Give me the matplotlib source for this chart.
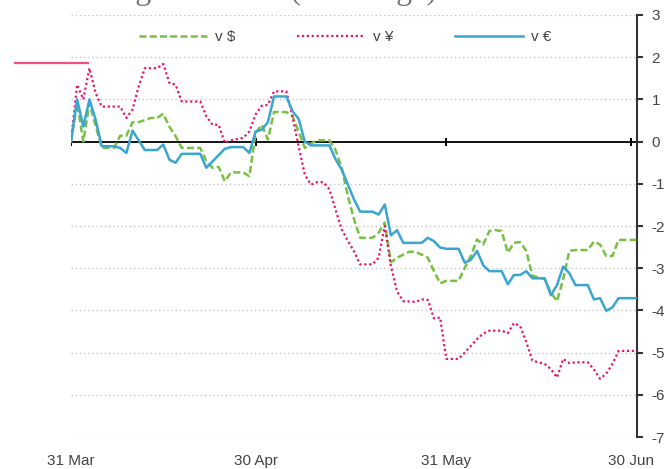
import numpy as np
import matplotlib
matplotlib.use('Agg')
import matplotlib.pyplot as plt
from matplotlib.lines import Line2D

plt.rcParams['font.family'] = ['Liberation Sans', 'DejaVu Sans']
plt.rcParams['axes.unicode_minus'] = False

# days since 31 Mar, % change of sterling
usd_days = [0, 1, 2, 3, 5, 7, 8, 9, 10, 11, 13, 14, 15, 16, 17, 18, 21, 22, 23, 24, 25, 26, 28, 29,
            30, 31, 32, 33, 35, 36, 37, 38, 39, 40, 42, 43, 44, 45, 46, 47, 49, 50, 51, 52, 53, 55,
            56, 58, 59, 60, 61, 63, 64, 65, 66, 67, 68, 69, 70, 71, 72, 73, 74, 75, 77, 78, 79, 80,
            81, 82, 84, 85, 86, 87, 88, 89, 92]
usd = [0, 0.91, 0.0, 0.91, -0.15, -0.15, 0.14, 0.14, 0.46, 0.46, 0.56, 0.56, 0.66, 0.35, 0.13, -0.15,
       -0.15, -0.46, -0.62, -0.6, -0.94, -0.73, -0.73, -0.82, 0.2, 0.4, 0.05, 0.70, 0.70, 0.6, 0.24,
       -0.15, -0.05, 0.03, 0.03, -0.2, -0.62, -1.29, -1.84, -2.28, -2.28, -2.16, -1.92, -2.86, -2.75,
       -2.61, -2.61, -2.75, -3.07, -3.36, -3.30, -3.30, -2.99, -2.71, -2.32, -2.44, -2.12, -2.10,
       -2.12, -2.63, -2.40, -2.38, -2.59, -3.18, -3.26, -3.58, -3.78, -3.26, -2.59, -2.57, -2.57,
       -2.37, -2.44, -2.71, -2.71, -2.33, -2.33]

jpy_days = [0, 1, 2, 3, 4, 5, 8, 9, 10, 11, 12, 14, 15, 16, 17, 18, 21, 22, 23, 24, 25, 26, 28, 29,
            30, 31, 32, 33, 35, 36, 37, 38, 39, 40, 41, 42, 43, 44, 45, 46, 47, 49, 50, 51, 52, 53,
            54, 56, 57, 58, 59, 60, 61, 63, 64, 65, 66, 67, 68, 70, 71, 72, 73, 74, 75, 77, 78, 79,
            80, 81, 82, 84, 85, 86, 87, 88, 89, 92]
jpy = [0, 1.35, 1.0, 1.74, 1.15, 0.83, 0.83, 0.56, 0.76, 1.31, 1.74, 1.74, 1.84, 1.39, 1.35, 0.95,
       0.95, 0.6, 0.40, 0.40, -0.03, 0.03, 0.09, 0.24, 0.64, 0.85, 0.87, 1.19, 1.19, 0.60, -0.11,
       -0.78, -1.02, -0.96, -0.96, -1.13, -1.61, -2.08, -2.35, -2.6, -2.91, -2.91, -2.75, -2.0,
       -2.95, -3.55, -3.78, -3.80, -3.74, -3.75, -4.19, -4.17, -5.15, -5.15, -5.0, -4.84, -4.68,
       -4.55, -4.48, -4.48, -4.54, -4.30, -4.37, -4.75, -5.19, -5.27, -5.39, -5.59, -5.15, -5.25,
       -5.23, -5.23, -5.40, -5.62, -5.5, -5.27, -4.96, -4.96]

eur_days = [0, 1, 2, 3, 4, 5, 7, 8, 9, 10, 12, 14, 15, 16, 17, 18, 21, 22, 25, 26, 28, 29, 30, 31,
            32, 33, 35, 36, 37, 38, 39, 42, 43, 44, 46, 47, 49, 50, 51, 52, 53, 54, 57, 58, 59, 60,
            61, 63, 64, 65, 66, 67, 68, 70, 71, 72, 73, 74, 75, 77, 78, 79, 80, 81, 82, 84, 85, 86,
            87, 88, 89, 92]
eur = [0, 1.0, 0.36, 1.0, 0.52, -0.11, -0.11, -0.15, -0.27, 0.26, -0.2, -0.2, -0.07, -0.43, -0.5,
       -0.29, -0.29, -0.62, -0.17, -0.13, -0.13, -0.27, 0.24, 0.28, 0.46, 1.07, 1.07, 0.72, 0.54,
       0.0, -0.09, -0.09, -0.42, -0.66, -1.37, -1.66, -1.66, -1.73, -1.49, -2.22, -2.10, -2.40,
       -2.40, -2.28, -2.36, -2.51, -2.54, -2.54, -2.87, -2.80, -2.59, -2.93, -3.07, -3.07, -3.38,
       -3.16, -3.16, -3.07, -3.24, -3.24, -3.64, -3.40, -2.96, -3.12, -3.40, -3.40, -3.74, -3.71,
       -4.01, -3.93, -3.71, -3.71]

tick_days = [0, 30, 61, 91]
tick_labels = ['31 Mar', '30 Apr', '31 May', '30 Jun']

fig = plt.figure(figsize=(6.71, 4.69), dpi=100)
ax = fig.add_axes([71 / 671, 1 - 437 / 469, 566 / 671, 422 / 469])

ax.set_xlim(0, 92)
ax.set_ylim(-7, 3)

# grid
for y in range(-7, 4):
    if y != 0:
        ax.axhline(y, color='#c4c4c4', lw=1.0, ls=(0, (1, 2)), zorder=1)
ax.axhline(0, color='black', lw=1.3, zorder=1.5)
ax.plot(tick_days, [0] * len(tick_days), ls='none', marker='|', ms=6, mew=1.4,
        color='black', zorder=1.6)

ax.plot(usd_days, usd, color='#78c043', lw=1.8, ls=(0, (2.8, 1.3)), label='v $', zorder=3)
ax.plot(jpy_days, jpy, color='#e8146c', lw=1.6, ls=(0, (1, 1.2)), label='v ¥', zorder=3)
ax.plot(eur_days, eur, color='#3aa6d0', lw=1.8, label='v €', zorder=3)

for s in ['top', 'left', 'bottom']:
    ax.spines[s].set_visible(False)
ax.spines['right'].set_color('#333333')
ax.spines['right'].set_linewidth(1.5)

ax.yaxis.tick_right()
ax.set_yticks(range(-7, 4))
ax.tick_params(axis='y', direction='out', length=4.5, width=1.5, color='#333333',
               labelsize=11, labelcolor='#444444', pad=6)
ax.set_xticks(tick_days)
ax.set_xticklabels(tick_labels)
ax.tick_params(axis='x', length=0, labelsize=11, labelcolor='#444444', pad=12)

leg = ax.legend(loc='center', bbox_to_anchor=(345 / 671, 1 - 37 / 469),
                bbox_transform=fig.transFigure, ncol=3, frameon=False, fontsize=11,
                handlelength=4.45, handletextpad=0.55, columnspacing=4.0)
for t in leg.get_texts():
    t.set_color('#444444')

# title sits mostly above the top edge, as in the source
fig.text(50 / 671, 1 + 0.5 / 469, "Sterling's fortunes (% change)", family='Liberation Serif',
         fontsize=23, color='#777777', va='baseline', ha='left')
fig.add_artist(Line2D([15 / 671, 88 / 671], [1 - 63 / 469, 1 - 63 / 469],
                      color='#f0508a', lw=1.6, transform=fig.transFigure))

fig.savefig('out.png', dpi=100)
